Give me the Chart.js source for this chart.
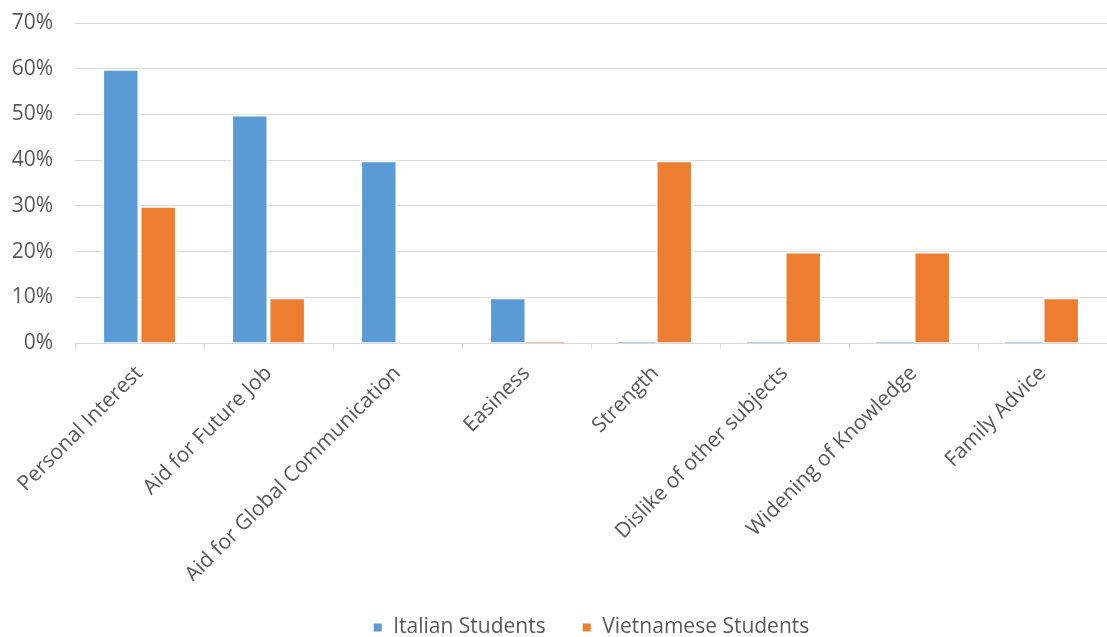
<!DOCTYPE html>
<html>
<head>
<meta charset="utf-8">
<style>
  html, body { margin: 0; padding: 0; background: #ffffff; }
  #wrap { width: 1107px; height: 637px; }
</style>
<script src="https://cdn.jsdelivr.net/npm/chart.js@4/dist/chart.umd.min.js"></script>
</head>
<body>
<div id="wrap"><canvas id="chart" width="1107" height="637"></canvas></div>
<script>
// Reasons for studying: share of students per reason (%)
const categories = [
  'Personal Interest',
  'Aid for Future Job',
  'Aid for Global Communication',
  'Easiness',
  'Strength',
  'Dislike of other subjects',
  'Widening of Knowledge',
  'Family Advice'
];
const italianStudents = [60, 50, 40, 10, 0, 0, 0, 0];
const vietnameseStudents = [30, 10, null, 0, 40, 20, 20, 10];
const yTicks = [0, 10, 20, 30, 40, 50, 60, 70];

const textColor = '#595959';
const gridColor = '#d9d9d9';
const fontFamily = '"Open Sans", Lato, sans-serif';
const fontSize = 21;

// zero-valued bars are shown as a hairline, the others get a white outline
const outline = ctx => (ctx.raw === 0 ? 0 : 2);

new Chart(document.getElementById('chart'), {
  type: 'bar',
  data: {
    labels: categories,
    datasets: [
      {
        label: 'Italian Students',
        data: italianStudents,
        backgroundColor: '#5b9bd5',
        borderColor: '#ffffff',
        borderWidth: outline,
        minBarLength: 1
      },
      {
        label: 'Vietnamese Students',
        data: vietnameseStudents,
        backgroundColor: '#ed7d31',
        borderColor: '#ffffff',
        borderWidth: outline,
        minBarLength: 1
      }
    ]
  },
  options: {
    responsive: false,
    animation: false,
    devicePixelRatio: 1,
    categoryPercentage: 0.58,
    barPercentage: 1.0,
    layout: { padding: { top: 23, left: 0, right: 0, bottom: 0 } },
    plugins: {
      tooltip: { enabled: false },
      legend: {
        position: 'bottom',
        fullSize: false,
        maxHeight: 56,
        labels: {
          color: textColor,
          font: { family: fontFamily, size: fontSize },
          boxWidth: 10,
          boxHeight: 10,
          padding: 36
        }
      }
    },
    scales: {
      x: {
        grid: {
          drawOnChartArea: false,
          drawTicks: true,
          tickLength: 6,
          color: gridColor
        },
        border: { color: gridColor, width: 1 },
        ticks: {
          color: textColor,
          font: { family: fontFamily, size: fontSize },
          maxRotation: 45,
          minRotation: 45,
          autoSkip: false,
          padding: 12
        },
        afterFit: scale => { scale.height = 238; }
      },
      y: {
        min: 0,
        max: 70,
        afterBuildTicks: scale => {
          scale.ticks = yTicks.map(v => ({ value: v }));
        },
        grid: { color: gridColor, drawTicks: false, lineWidth: 1 },
        border: { display: false },
        ticks: {
          color: textColor,
          font: { family: fontFamily, size: fontSize },
          padding: 22,
          callback: v => v + '%'
        },
        afterFit: scale => {
          scale.width = 75;
          scale.paddingTop = 0;
          scale.paddingBottom = 0;
        }
      }
    }
  }
});
</script>
</body>
</html>
